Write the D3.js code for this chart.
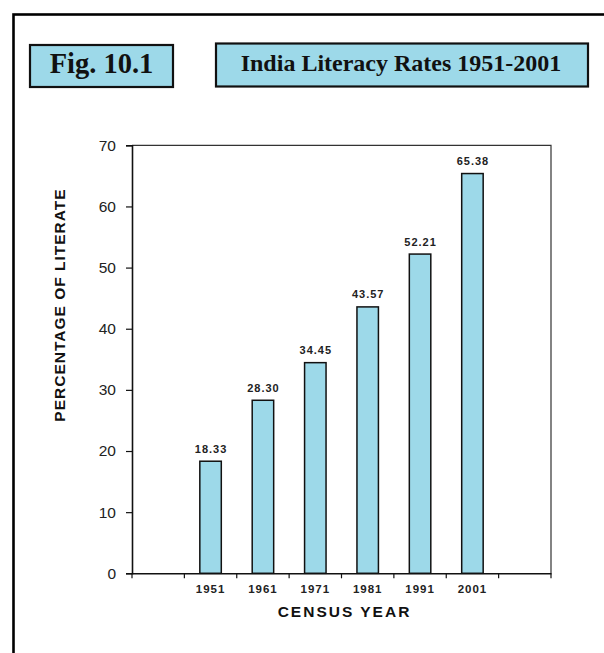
<!DOCTYPE html>
<html>
<head>
<meta charset="utf-8">
<script src="https://cdn.jsdelivr.net/npm/d3@7"></script>
<style>
  html, body { margin: 0; padding: 0; background: #fff; }
  svg { display: block; }
</style>
</head>
<body>
<svg id="chart" width="604" height="653"></svg>
<script>
// ---- data ----
const years = ["1951", "1961", "1971", "1981", "1991", "2001"];
const literacy = [18.33, 28.30, 34.45, 43.57, 52.21, 65.38];
const valueLabels = ["18.33", "28.30", "34.45", "43.57", "52.21", "65.38"];
const yTicks = [0, 10, 20, 30, 40, 50, 60, 70];
const figLabel = "Fig. 10.1";
const titleText = "India Literacy Rates 1951-2001";
const xTitle = "CENSUS YEAR";
const yTitle = "PERCENTAGE OF LITERATE";

const fill = "#9dd9e9";
const svg = d3.select("#chart");

// outer frame (extends beyond the right and bottom edges)
svg.append("rect")
  .attr("x", 13.5).attr("y", 14.5)
  .attr("width", 700).attr("height", 800)
  .attr("fill", "none").attr("stroke", "#000").attr("stroke-width", 2.6);

// header boxes
svg.append("rect")
  .attr("x", 30).attr("y", 45).attr("width", 143).attr("height", 42)
  .attr("fill", fill).attr("stroke", "#111").attr("stroke-width", 2.2);
svg.append("text")
  .attr("x", 101.5).attr("y", 73)
  .attr("text-anchor", "middle")
  .attr("font-family", "Liberation Serif, serif")
  .attr("font-weight", "bold").attr("font-size", 28.5)
  .attr("fill", "#111")
  .attr("xml:space", "preserve")
  .text(figLabel);

svg.append("rect")
  .attr("x", 216).attr("y", 43.5).attr("width", 372).attr("height", 43)
  .attr("fill", fill).attr("stroke", "#111").attr("stroke-width", 2.2);
svg.append("text")
  .attr("x", 401).attr("y", 71)
  .attr("text-anchor", "middle")
  .attr("font-family", "Liberation Serif, serif")
  .attr("font-weight", "bold").attr("font-size", 24)
  .attr("fill", "#111")
  .text(titleText);

// ---- scales ----
const x0 = 132, x1 = 551, yBottom = 573.3, yTop = 145.3;
const domain = ["pad0", ...years, "pad1"];
const x = d3.scaleBand().domain(domain).range([x0, x1])
  .paddingInner(0.59).paddingOuter(0.295);
const step = x.step();
const y = d3.scaleLinear().domain([0, 70]).range([yBottom, yTop]);

// plot border (top & right)
svg.append("path")
  .attr("d", `M${x0},${y(70)}H${x1}V${y(0)}`)
  .attr("fill", "none").attr("stroke", "#333").attr("stroke-width", 1.2);

// bars
const data = years.map((yr, i) => ({ year: yr, value: literacy[i], label: valueLabels[i] }));
svg.append("g").selectAll("rect").data(data).join("rect")
  .attr("x", d => x(d.year))
  .attr("y", d => y(d.value))
  .attr("width", x.bandwidth())
  .attr("height", d => y(0) - y(d.value))
  .attr("fill", fill).attr("stroke", "#111").attr("stroke-width", 1.5);

// value labels
svg.append("g").selectAll("text").data(data).join("text")
  .attr("x", d => x(d.year) + x.bandwidth() / 2 + 0.5)
  .attr("y", d => y(d.value) - 8.5)
  .attr("text-anchor", "middle")
  .attr("font-family", "Liberation Sans, Arial, sans-serif")
  .attr("font-weight", "bold").attr("font-size", 11)
  .attr("letter-spacing", 1)
  .attr("fill", "#222")
  .text(d => d.label);

// y axis
const yAxis = svg.append("g")
  .attr("transform", `translate(${x0},0)`)
  .call(d3.axisLeft(y).tickValues(yTicks).tickSize(6).tickPadding(10));
yAxis.select(".domain").attr("stroke", "#111").attr("stroke-width", 1.6);
yAxis.selectAll(".tick line").attr("stroke", "#111").attr("stroke-width", 1.2);
yAxis.selectAll(".tick text")
  .attr("font-family", "Liberation Sans, Arial, sans-serif")
  .attr("font-size", 15.5).attr("fill", "#222");

// x axis: labels at band centres, ticks at band boundaries
const xAxis = svg.append("g")
  .attr("transform", `translate(0,${yBottom})`)
  .call(d3.axisBottom(x).tickSize(0).tickPadding(12)
    .tickFormat(d => d.startsWith("pad") ? "" : d));
xAxis.select(".domain").attr("stroke", "#111").attr("stroke-width", 1.6);
xAxis.selectAll(".tick text")
  .attr("font-family", "Liberation Sans, Arial, sans-serif")
  .attr("font-weight", "bold").attr("font-size", 11.5)
  .attr("letter-spacing", 1)
  .attr("fill", "#222");
const boundaries = d3.range(domain.length + 1).map(i => x0 + i * step);
svg.append("g").selectAll("line").data(boundaries).join("line")
  .attr("x1", d => d).attr("x2", d => d)
  .attr("y1", yBottom).attr("y2", yBottom + 5)
  .attr("stroke", "#111").attr("stroke-width", 1.2);

// axis titles
svg.append("text")
  .attr("x", (x0 + x1) / 2 + 3).attr("y", 617)
  .attr("text-anchor", "middle")
  .attr("font-family", "Liberation Sans, Arial, sans-serif")
  .attr("font-weight", "bold").attr("font-size", 15.5)
  .attr("letter-spacing", 2)
  .attr("fill", "#111")
  .text(xTitle);

svg.append("text")
  .attr("transform", "translate(65,305) rotate(-90)")
  .attr("text-anchor", "middle")
  .attr("font-family", "Liberation Sans, Arial, sans-serif")
  .attr("font-weight", "bold").attr("font-size", 15.5)
  .attr("letter-spacing", 1)
  .attr("fill", "#111")
  .text(yTitle);
</script>
</body>
</html>
